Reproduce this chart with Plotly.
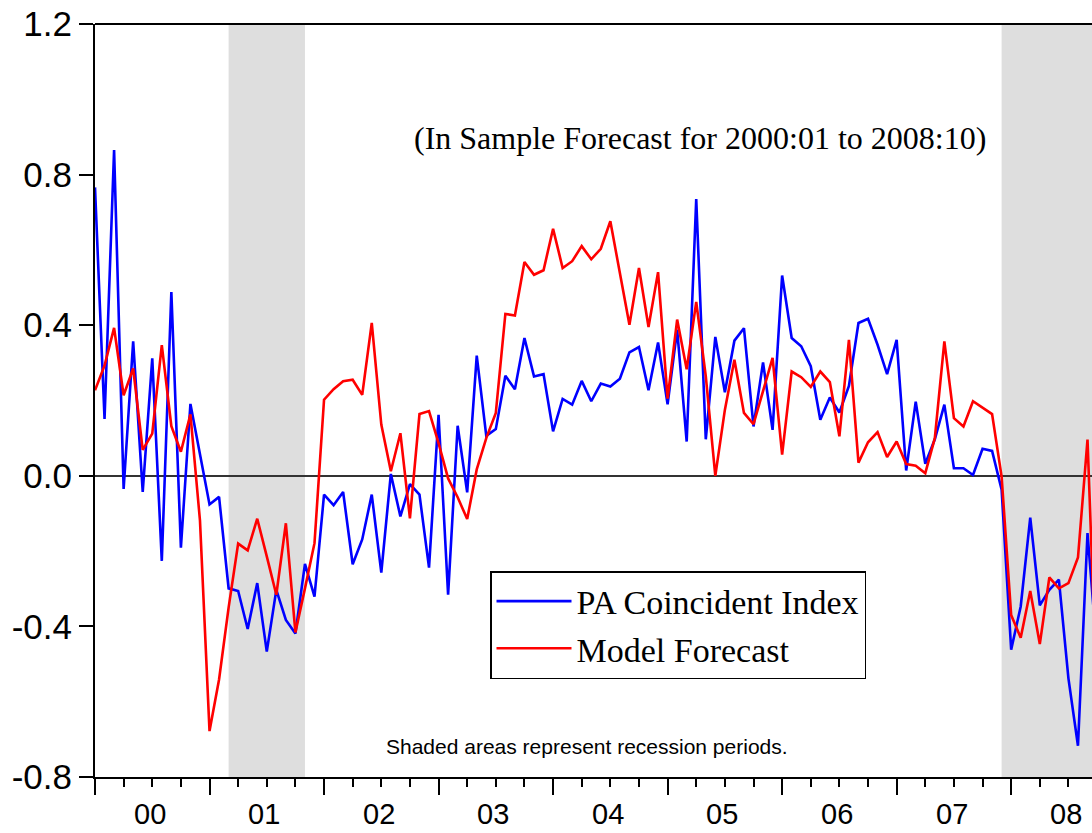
import plotly.graph_objects as go
import pandas as pd

# ---------------- data ----------------
start_month = "2000-01"
end_month = "2008-10"

pa_coincident = [
    0.766, 0.151, 0.865, -0.035, 0.357, -0.043, 0.312, -0.226, 0.488, -0.191, 0.191, 0.060,
    -0.076, -0.056, -0.299, -0.306, -0.407, -0.285, -0.467, -0.303, -0.383, -0.419, -0.234, -0.321,
    -0.050, -0.078, -0.043, -0.235, -0.169, -0.050, -0.257, 0.005, -0.108, -0.022, -0.050, -0.244,
    0.162, -0.316, 0.133, -0.044, 0.319, 0.106, 0.124, 0.266, 0.230, 0.366, 0.264, 0.270,
    0.118, 0.204, 0.189, 0.252, 0.198, 0.245, 0.237, 0.258, 0.328, 0.342, 0.227, 0.354,
    0.190, 0.388, 0.091, 0.735, 0.097, 0.369, 0.222, 0.359, 0.392, 0.131, 0.301, 0.122,
    0.532, 0.366, 0.344, 0.291, 0.149, 0.208, 0.168, 0.239, 0.406, 0.417, 0.348, 0.270,
    0.361, 0.014, 0.197, 0.032, 0.097, 0.189, 0.020, 0.020, 0.002, 0.072, 0.066, -0.037,
    -0.462, -0.347, -0.111, -0.344, -0.303, -0.276, -0.538, -0.717, -0.152, -0.470,
]

model_forecast = [
    0.227, 0.293, 0.393, 0.214, 0.285, 0.069, 0.112, 0.347, 0.132, 0.064, 0.163, -0.119,
    -0.678, -0.541, -0.350, -0.180, -0.198, -0.114, -0.214, -0.316, -0.126, -0.416, -0.299, -0.179,
    0.202, 0.230, 0.251, 0.255, 0.215, 0.406, 0.136, 0.012, 0.113, -0.113, 0.164, 0.172,
    0.087, -0.007, -0.057, -0.115, 0.017, 0.100, 0.167, 0.430, 0.426, 0.568, 0.534, 0.546,
    0.656, 0.552, 0.570, 0.610, 0.575, 0.603, 0.676, 0.539, 0.401, 0.552, 0.395, 0.541,
    0.205, 0.415, 0.283, 0.462, 0.265, 0.000, 0.175, 0.308, 0.167, 0.137, 0.224, 0.313,
    0.056, 0.277, 0.262, 0.236, 0.277, 0.249, 0.105, 0.361, 0.035, 0.089, 0.116, 0.050,
    0.091, 0.031, 0.027, 0.007, 0.100, 0.357, 0.153, 0.131, 0.198, 0.180, 0.164, -0.002,
    -0.370, -0.430, -0.306, -0.447, -0.270, -0.299, -0.285, -0.217, 0.096, -0.600,
]

recessions = [("2001-03", "2001-11"), ("2007-12", "2009-06")]
year_labels = ["00", "01", "02", "03", "04", "05", "06", "07", "08"]
y_ticks = [-0.8, -0.4, 0.0, 0.4, 0.8, 1.2]

# ---------------- helpers ----------------
months = pd.period_range(start_month, end_month, freq="M")
base = pd.Period(start_month, freq="M")


def month_pos(s):
    p = pd.Period(s, freq="M")
    return (p.year - base.year) * 12 + (p.month - base.month)


x = [month_pos(str(m)) for m in months]
year_starts = [12 * k for k in range(len(year_labels))]
year_mids = [12 * k + 5.75 for k in range(len(year_labels))]

SANS = "Arial, Liberation Sans, sans-serif"
SERIF = "Times New Roman, Liberation Serif, serif"

fig = go.Figure()
fig.add_trace(go.Scatter(x=x, y=pa_coincident, mode="lines", name="PA Coincident Index",
                         line=dict(color="#0000FF", width=2.6)))
fig.add_trace(go.Scatter(x=x, y=model_forecast, mode="lines", name="Model Forecast",
                         line=dict(color="#FF0000", width=2.6)))

shapes = []
for a, b in recessions:
    shapes.append(dict(type="rect", xref="x", yref="paper", x0=month_pos(a), x1=month_pos(b),
                       y0=0, y1=1, fillcolor="#DEDEDE", line=dict(width=0), layer="below"))
# top frame line
shapes.append(dict(type="line", xref="paper", yref="paper", x0=0, x1=1, y0=1, y1=1,
                   line=dict(color="black", width=2)))

x_range = [0, 104.47]

annotations = [
    dict(text="(In Sample Forecast for 2000:01 to 2008:10)", xref="paper", yref="paper",
         x=0.607, y=(777 - 138) / 753, xanchor="center", yanchor="middle", showarrow=False,
         font=dict(family=SERIF, size=32, color="black")),
    dict(text="Shaded areas represent recession periods.", xref="paper", yref="paper",
         x=0.4935, y=(777 - 746) / 753, xanchor="center", yanchor="middle", showarrow=False,
         font=dict(family=SANS, size=21, color="black")),
]
for pos, lab in zip(year_mids, year_labels):
    annotations.append(dict(text=lab, xref="x", yref="paper", x=pos, y=0, yshift=-37,
                            xanchor="center", yanchor="middle", showarrow=False, borderpad=0,
                            font=dict(family=SANS, size=29, color="black")))

fig.update_layout(
    width=1092, height=833,
    margin=dict(l=95, r=0, t=24, b=56, autoexpand=False),
    paper_bgcolor="white", plot_bgcolor="white",
    showlegend=True,
    legend=dict(x=(490 - 95) / 997, y=(777 - 571) / 753, xanchor="left", yanchor="top",
                bgcolor="white", bordercolor="black", borderwidth=1.5,
                font=dict(family=SERIF, size=34, color="black"),
                itemwidth=75),
    shapes=shapes,
    annotations=annotations,
    xaxis=dict(range=x_range, tickmode="array", tickvals=year_starts,
               ticktext=[""] * len(year_starts), automargin=False,
               ticks="outside", ticklen=16, tickwidth=1.5, tickcolor="black",
               minor=dict(dtick=3, tick0=0, ticks="outside", ticklen=8, tickwidth=1.5,
                          tickcolor="black", showgrid=False),
               showline=True, linecolor="black", linewidth=2,
               showgrid=False, zeroline=False),
    yaxis=dict(range=[-0.8, 1.2], tickmode="array", tickvals=y_ticks,
               ticktext=[f"{v:.1f}" for v in y_ticks], automargin=False,
               ticks="outside", ticklen=14, tickwidth=1.5, tickcolor="black",
               showline=True, linecolor="black", linewidth=2,
               showgrid=False, zeroline=True, zerolinecolor="#333333", zerolinewidth=1.5,
               tickfont=dict(family=SANS, size=35, color="black")),
)

fig.write_html(
    "out.html",
    config={"displayModeBar": False},
    post_script="document.body.style.margin='0';document.body.style.overflow='hidden';",
)
